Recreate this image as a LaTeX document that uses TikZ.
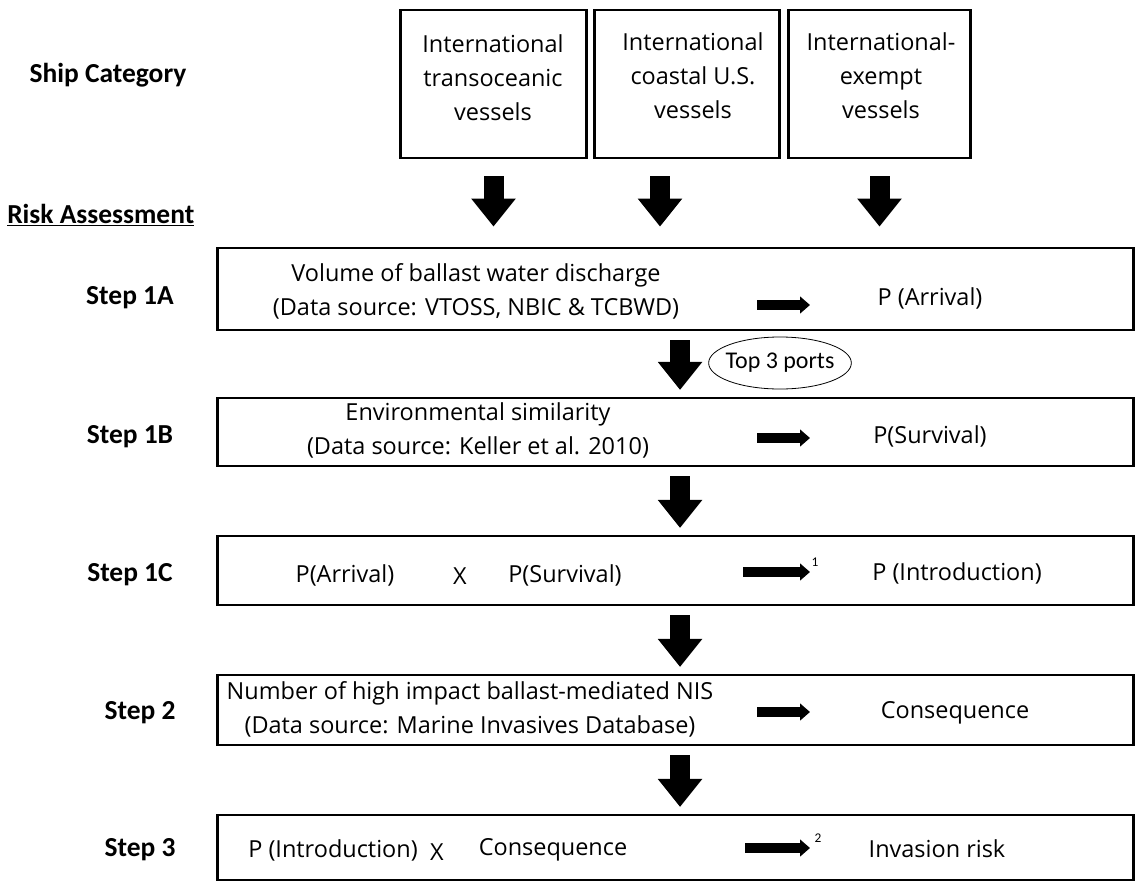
\documentclass[tikz,border=0pt]{standalone}
\usepackage{fontspec}
\setmainfont{Open Sans}
\newfontfamily\calib{Carlito}
\usetikzlibrary{arrows.meta,shapes.geometric}
\begin{document}
\begin{tikzpicture}[x=0.75pt,y=0.75pt,yscale=-1,xscale=1,
  catbox/.style={draw,line width=2.1pt,minimum width=139pt,minimum height=111pt,inner sep=0pt},
  stepbox/.style={draw,line width=2.1pt,minimum width=687pt,inner sep=0pt},
  bigarrow/.style={line width=15pt,-{Triangle[length=21pt,width=32pt]}},
  smallarrow/.style={line width=7pt,-{Triangle[length=7.5pt,width=12.5pt]}},
  txt/.style={font=\fontsize{17.6}{25.5}\selectfont,align=center,inner sep=0.75pt},
  lbl/.style={font=\calib\bfseries\fontsize{20.6}{22}\selectfont,inner sep=0.75pt}]
\useasboundingbox (0,0) rectangle (1136,882);

%Ship categories
\node[catbox] (cat1) at (493.5,84) {};
\node[catbox] (cat2) at (687,84) {};
\node[catbox,minimum width=137pt] (cat3) at (879.5,84) {};
\node[txt] (cat1t) at (493,78) {International\\transoceanic\\vessels};
\node[txt] (cat2t) at (693,76) {International\\coastal U.S.\\vessels};
\node[txt] (cat3t) at (881,76) {International-\\exempt\\vessels};

% Text Node
\node[lbl] (shipcat) at (108,75) {Ship Category};
\node[lbl,anchor=west] (riskass) at (6,215) {\underline{Risk Assessment}};
\node[lbl] (lab1a) at (130,298) {Step 1A};
\node[lbl] (lab1b) at (130,437) {Step 1B};
\node[lbl] (lab1c) at (130,575) {Step 1C};
\node[lbl] (lab2) at (140,713) {Step 2};
\node[lbl] (lab3) at (140,850) {Step 3};

%Step boxes
\node[stepbox,minimum height=61.5pt] (s1a) at (675.5,289) {};
\node[stepbox,minimum height=51pt] (s1b) at (675.5,432) {};
\node[stepbox,minimum height=51.75pt] (s1c) at (675.5,570.5) {};
\node[stepbox,minimum height=52.5pt] (s2) at (675.5,710) {};
\node[stepbox,minimum height=48.75pt] (s3) at (675.5,847.5) {};

% Text Node
\node[txt] (vol) at (476,291) {Volume of ballast water discharge\\(Data source: VTOSS, NBIC \& TCBWD)};
\node[txt] (env) at (478,430) {Environmental similarity\\(Data source: Keller et al. 2010)};
\node[txt] (pa1c) at (345,575) {P(Arrival)};
\node[txt] (x1c) at (460,576) {X};
\node[txt] (ps1c) at (565,575) {P(Survival)};
\node[txt] (nis) at (470,709) {Number of high impact ballast-mediated NIS\\(Data source: Marine Invasives Database)};
\node[txt] (pi3) at (333,850) {P (Introduction)};
\node[txt] (x3) at (437,852) {X};
\node[txt] (c3) at (553,850) {Consequence};
\node[txt] (parr) at (930,298) {P (Arrival)};
\node[txt] (psur) at (930,436) {P(Survival)};
\node[txt] (pint) at (957,573) {P (Introduction)};
\node[txt] (cons) at (955,713) {Consequence};
\node[txt] (risk) at (937,849) {Invasion risk};
\node[font=\calib\fontsize{10}{10}\selectfont] (sup1) at (815,562) {1};
\node[font=\calib\fontsize{10}{10}\selectfont] (sup2) at (818,838) {2};
\node[draw,ellipse,line width=0.6pt,inner xsep=-3pt,inner ysep=6.5pt,font=\calib\fontsize{18}{20}\selectfont] (ports) at (780,363) {Top 3 ports};

%Arrows from categories
\coordinate (c1) at (cat1.south);
\coordinate (c2) at ([xshift=-20.25pt]cat2.south);
\coordinate (c3) at (cat3.south);
\foreach \c in {c1,c2,c3}
  \draw[bigarrow,shorten <=12.75pt,shorten >=15pt] (\c) -- (\c |- s1a.north);

%Arrows between steps
\foreach \a/\b in {s1a/s1b,s1b/s1c,s1c/s2,s2/s3}
  \draw[bigarrow,shorten <=6.5pt,shorten >=5pt] ([xshift=3.4pt]\a.south) -- ([xshift=3.4pt]\b.north);

%Side arrows
\foreach \xa/\y [count=\i] in {757/305,757/438,743/572,757/712,745/848} {
  \coordinate (sa\i) at (\xa,\y);
  \coordinate (sb\i) at (810,\y);
  \draw[smallarrow] (sa\i) -- (sb\i);
}
\end{tikzpicture}
\end{document}
